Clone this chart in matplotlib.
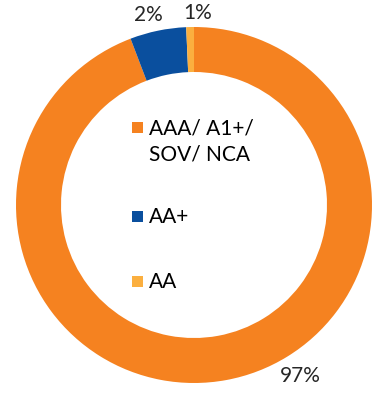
import matplotlib
matplotlib.use("Agg")
import matplotlib.pyplot as plt
from matplotlib.patches import Rectangle

# ring shares as drawn (clockwise from 12 o'clock) and the printed labels
categories = ['AAA/ A1+/\nSOV/ NCA', 'AA+', 'AA']
shares = [94.2, 5.1, 0.7]
pct_labels = ['97%', '2%', '1%']
colors = ['#F58220', '#0A4F9E', '#FBAF3F']

W, H = 383, 411
cx, cy, R = 194, 205, 178   # pixel centre / radius of ring

plt.rcParams['font.family'] = ['Lato', 'DejaVu Sans']

fig = plt.figure(figsize=(W / 100, H / 100), dpi=100)
ax = fig.add_axes([0, 0, 1, 1])
ax.axis('off')

ax.pie(shares, colors=colors, startangle=90, counterclock=False, radius=1,
       wedgeprops=dict(width=45 / R, edgecolor='none'))
ax.set_xlim(-cx / R, (W - cx) / R)
ax.set_ylim(-(H - cy) / R, cy / R)
ax.set_aspect('auto')

def px(x, y):
    return (x - cx) / R, (cy - y) / R

# percentage labels, placed like the original
lab_pos = [(300, 376), (148, 15), (198, 13)]
for txt, (x, y) in zip(pct_labels, lab_pos):
    ax.text(*px(x, y), txt, ha='center', va='center', fontsize=15, color='#262626')

# legend in the hole
leg_y = [127, 216, 281]
for cat, col, y in zip(categories, colors, leg_y):
    sx, sy = px(132, y + 6)
    ax.add_patch(Rectangle((sx, sy), 11 / R, 11 / R, facecolor=col, edgecolor='none'))
    ax.text(*px(149, y - 9), cat, ha='left', va='top', fontsize=15,
            color='black', linespacing=1.38)

fig.savefig('out.png', dpi=100)
